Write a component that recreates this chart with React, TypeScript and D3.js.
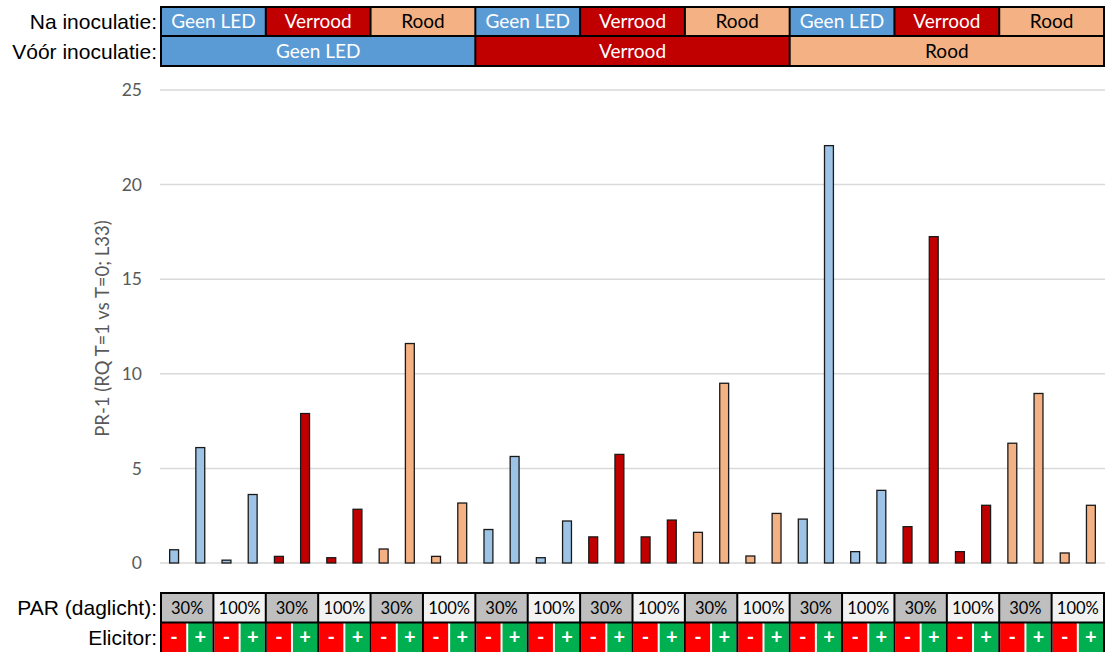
import React from "react";
import * as d3 from "d3";

const voorLabels = ["Geen LED", "Verrood", "Rood"];
const naLabels = ["Geen LED", "Verrood", "Rood"];
const parLabels = ["30%", "100%"];
const elicitorLabels = ["-", "+"];
const values = [
  0.7, 6.1, 0.15, 3.62, 0.35, 7.9, 0.28, 2.84, 0.74, 11.6, 0.35, 3.17,
  1.77, 5.63, 0.28, 2.22, 1.38, 5.74, 1.38, 2.27, 1.62, 9.5, 0.37, 2.62,
  2.32, 22.06, 0.6, 3.84, 1.92, 17.25, 0.6, 3.05, 6.33, 8.96, 0.53, 3.05,
];
const yTicks = [0, 5, 10, 15, 20, 25];
const yTitle = "PR-1 (RQ T=1 vs T=0; L33)";

const headerFill: Record<string, string> = {
  "Geen LED": "#5B9BD5",
  Verrood: "#C00000",
  Rood: "#F4B183",
};
const headerText: Record<string, string> = {
  "Geen LED": "#FFFFFF",
  Verrood: "#FFFFFF",
  Rood: "#000000",
};
const barFill: Record<string, string> = {
  "Geen LED": "#9DC3E6",
  Verrood: "#C00000",
  Rood: "#F4B183",
};
const parFill: Record<string, string> = { "30%": "#BFBFBF", "100%": "#F2F2F2" };
const elicFill: Record<string, string> = { "-": "#FF0000", "+": "#00B050" };

export default function App() {
  const W = 1106;
  const H = 652;
  const left = 161;
  const right = 1104;
  const n = values.length;
  const x = d3
    .scaleBand<number>()
    .domain(d3.range(n))
    .range([left, right])
    .paddingInner(0.66)
    .paddingOuter(0.33);
  const cell = d3.scaleBand<number>().domain(d3.range(n)).range([left, right]);
  const parCell = d3.scaleBand<number>().domain(d3.range(n / 2)).range([left, right]);
  const naCell = d3.scaleBand<number>().domain(d3.range(9)).range([left, right]);
  const voorCell = d3.scaleBand<number>().domain(d3.range(3)).range([left, right]);
  const y = d3.scaleLinear().domain([0, 25]).range([563, 90]);

  const bars = values.map((v, i) => {
    const na = naLabels[Math.floor(i / 4) % 3];
    return { i, v, na };
  });

  const hTop = 7, hMid = 36, hBot = 66;
  const bTop = 593, bMid = 622.5, bBot = 653;
  const cellFont = "Lato, 'Open Sans', sans-serif";
  const labFont = "'Liberation Sans', Arial, sans-serif";

  return (
    <svg
      width={W}
      height={H}
      style={{ position: "absolute", left: 0, top: 0, background: "#fff" }}
    >
      {/* gridlines */}
      {yTicks.map((t) => (
        <g key={t}>
          <line x1={160} x2={1105} y1={y(t)} y2={y(t)} stroke="#D9D9D9" strokeWidth={1.5} />
          <text
            x={142}
            y={y(t)}
            dy="0.35em"
            textAnchor="end"
            fontFamily={cellFont}
            fontSize={17.5}
            fill="#595959"
          >
            {t}
          </text>
        </g>
      ))}
      <text
        transform={`translate(103, ${(y(0) + y(25)) / 2 + 2}) rotate(-90)`}
        textAnchor="middle"
        dy="0.35em"
        fontFamily={cellFont}
        fontSize={18.5}
        fill="#595959"
      >
        {yTitle}
      </text>

      {/* bars */}
      {bars.map((b) => (
        <rect
          key={b.i}
          x={x(b.i)!}
          width={x.bandwidth()}
          y={y(b.v)}
          height={y(0) - y(b.v)}
          fill={barFill[b.na]}
          stroke="#1a1a1a"
          strokeWidth={1.3}
        />
      ))}

      {/* header rows */}
      {d3.range(9).map((k) => {
        const lab = naLabels[k % 3];
        const x0 = naCell(k)!;
        return (
          <g key={"na" + k}>
            <rect x={x0} y={hTop} width={naCell.bandwidth()} height={hMid - hTop} fill={headerFill[lab]} />
            <text
              x={x0 + naCell.bandwidth() / 2}
              y={(hTop + hMid) / 2}
              dy="0.36em"
              textAnchor="middle"
              fontFamily={cellFont}
              fontSize={19}
              fill={headerText[lab]}
            >
              {lab}
            </text>
          </g>
        );
      })}
      {voorLabels.map((lab, k) => {
        const x0 = voorCell(k)!;
        return (
          <g key={"voor" + k}>
            <rect x={x0} y={hMid} width={voorCell.bandwidth()} height={hBot - hMid} fill={headerFill[lab]} />
            <text
              x={x0 + voorCell.bandwidth() / 2}
              y={(hMid + hBot) / 2}
              dy="0.36em"
              textAnchor="middle"
              fontFamily={cellFont}
              fontSize={19}
              fill={headerText[lab]}
            >
              {lab}
            </text>
          </g>
        );
      })}
      {d3.range(1, 9).map((k) => (
        <line key={"nl" + k} x1={naCell(k)!} x2={naCell(k)!} y1={hTop} y2={hMid} stroke="#000" strokeWidth={2} />
      ))}
      {d3.range(1, 3).map((k) => (
        <line key={"vl" + k} x1={voorCell(k)!} x2={voorCell(k)!} y1={hMid} y2={hBot} stroke="#000" strokeWidth={2} />
      ))}
      <line x1={left} x2={right} y1={hMid} y2={hMid} stroke="#000" strokeWidth={2} />
      <rect x={left} y={hTop} width={right - left} height={hBot - hTop} fill="none" stroke="#000" strokeWidth={2} />
      <text x={157} y={(hTop + hMid) / 2} dy="0.36em" textAnchor="end" fontFamily={labFont} fontSize={21} fill="#000">
        Na inoculatie:
      </text>
      <text x={157} y={(hMid + hBot) / 2} dy="0.36em" textAnchor="end" fontFamily={labFont} fontSize={21} fill="#000">
        Vóór inoculatie:
      </text>

      {/* bottom rows */}
      {d3.range(n / 2).map((k) => {
        const lab = parLabels[k % 2];
        const x0 = parCell(k)!;
        return (
          <g key={"par" + k}>
            <rect x={x0} y={bTop} width={parCell.bandwidth()} height={bMid - bTop} fill={parFill[lab]} />
            <text
              x={x0 + parCell.bandwidth() / 2}
              y={(bTop + bMid) / 2}
              dy="0.36em"
              textAnchor="middle"
              fontFamily={cellFont}
              fontSize={16.5}
              fill="#000"
            >
              {lab}
            </text>
          </g>
        );
      })}
      {d3.range(n).map((k) => {
        const lab = elicitorLabels[k % 2];
        const x0 = cell(k)!;
        return (
          <g key={"el" + k}>
            <rect
              x={x0 + 1}
              y={bMid}
              width={cell.bandwidth() - 2}
              height={bBot - bMid}
              fill={elicFill[lab]}
            />
            <text
              x={x0 + cell.bandwidth() / 2}
              y={(bMid + 652) / 2}
              dy="0.36em"
              textAnchor="middle"
              fontFamily={cellFont}
              fontSize={20}
              fontWeight={700}
              fill="#FFFFFF"
            >
              {lab}
            </text>
          </g>
        );
      })}
      {d3.range(1, n / 2).map((k) => (
        <line key={"pl" + k} x1={parCell(k)!} x2={parCell(k)!} y1={bTop} y2={bBot} stroke="#000" strokeWidth={2} />
      ))}
      <line x1={left} x2={right} y1={bMid} y2={bMid} stroke="#000" strokeWidth={2} />
      <rect x={left} y={bTop} width={right - left} height={bBot - bTop} fill="none" stroke="#000" strokeWidth={2} />
      <text x={157} y={(bTop + bMid) / 2} dy="0.36em" textAnchor="end" fontFamily={labFont} fontSize={21} fill="#000">
        PAR (daglicht):
      </text>
      <text x={157} y={(bMid + 652) / 2} dy="0.36em" textAnchor="end" fontFamily={labFont} fontSize={21} fill="#000">
        Elicitor:
      </text>
    </svg>
  );
}
